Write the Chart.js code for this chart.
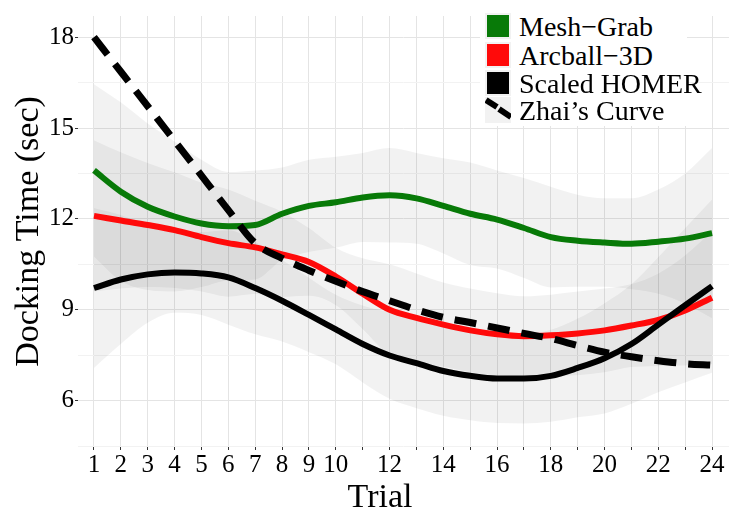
<!DOCTYPE html>
<html>
<head>
<meta charset="utf-8">
<script src="https://cdn.jsdelivr.net/npm/chart.js@4.4.1/dist/chart.umd.min.js"></script>
<style>
  html, body { margin: 0; padding: 0; background: #fff; }
  #wrap { position: relative; width: 729px; height: 515px; }
  #legend { position: absolute; left: 480px; top: 10px; width: 207px; height: 116px; background: #fff; }
  .row { position: absolute; left: 0; width: 240px; height: 28px; line-height: 28px;
         font-family: 'Liberation Serif', serif; font-size: 28px; color: #000; white-space: nowrap; }
  .key { position: absolute; left: 5px; top: 0; width: 26px; height: 26px; background: #f2f2f2; }
  .key span { position: absolute; left: 2px; top: 2px; width: 22px; height: 22px; }
  .key svg { position: absolute; left: 0; top: 0; }
  .label { position: absolute; left: 39px; top: 0; }
</style>
</head>
<body>
<div id="wrap">
  <canvas id="dockingChart" width="729" height="515"></canvas>
  <div id="legend"></div>
</div>
<script>
// trials and tick labels
const trials = [1, 2, 3, 4, 5, 6, 7, 8, 9, 10, 11, 12, 13, 14, 15, 16, 17, 18, 19, 20, 21, 22, 23, 24];
const xTickLabels = [1, 2, 3, 4, 5, 6, 7, 8, 9, 10, 12, 14, 16, 18, 20, 22, 24];
const yTickLabels = [6, 9, 12, 15, 18];
const yMinorTicks = [4.5, 7.5, 10.5, 13.5, 16.5];

const seriesNames = ['Mesh\u2212Grab', 'Arcball\u22123D', 'Scaled HOMER', 'Zhai\u2019s Curve'];
const seriesColors = ['#087a08', '#ff0a0a', '#000000', '#000000'];

// smoothed docking time (sec) per trial
const meshGrab = [13.6, 12.9, 12.4, 12.08, 11.85, 11.76, 11.8, 12.17, 12.43, 12.55, 12.71, 12.78,
                  12.68, 12.43, 12.17, 11.98, 11.7, 11.4, 11.28, 11.22, 11.18, 11.25, 11.35, 11.53];
const arcball3D = [12.1, 11.95, 11.8, 11.63, 11.4, 11.2, 11.06, 10.83, 10.58, 10.1, 9.53, 9.0,
                   8.73, 8.51, 8.32, 8.19, 8.13, 8.16, 8.22, 8.32, 8.48, 8.67, 8.98, 9.4];
const scaledHomer = [9.72, 10.0, 10.17, 10.23, 10.2, 10.07, 9.72, 9.3, 8.83, 8.35, 7.87, 7.49,
                     7.24, 6.98, 6.82, 6.73, 6.73, 6.82, 7.08, 7.4, 7.87, 8.51, 9.15, 9.78];
const zhaiCurve = [18.0, 16.86, 15.72, 14.58, 13.43, 12.29, 11.2, 10.7, 10.3, 9.94, 9.6, 9.3,
                   9.0, 8.75, 8.58, 8.4, 8.22, 8.05, 7.82, 7.6, 7.45, 7.32, 7.22, 7.17];

// confidence bands
const meshGrabUpper = [16.45, 15.85, 15.15, 14.56, 13.95, 13.55, 13.6, 13.7, 13.95, 14.05, 14.18, 14.34,
                       14.18, 14.0, 13.86, 13.6, 13.35, 13.06, 12.8, 12.68, 12.68, 12.97, 13.5, 14.34];
const meshGrabLower = [10.75, 9.95, 9.65, 9.6, 9.75, 9.97, 10.0, 10.64, 10.91, 11.05, 11.24, 11.22,
                       11.18, 10.86, 10.48, 10.36, 10.05, 9.74, 9.76, 9.76, 9.68, 9.53, 9.2, 8.72];
const arcball3DUpper = [14.6, 14.2, 13.85, 13.54, 13.2, 12.97, 12.6, 12.24, 11.7, 11.05, 10.7, 10.5,
                        10.2, 9.9, 9.7, 9.55, 9.45, 9.5, 9.6, 9.7, 9.85, 10.2, 10.8, 11.6];
const arcball3DLower = [9.6, 9.7, 9.75, 9.72, 9.6, 9.43, 9.52, 9.42, 9.46, 9.15, 8.36, 7.5,
                        7.26, 7.12, 6.94, 6.83, 6.81, 6.82, 6.84, 6.94, 7.11, 7.14, 7.16, 7.2];
const scaledHomerUpper = [12.36, 12.13, 11.77, 11.56, 11.57, 11.63, 11.25, 10.65, 10.06, 9.5, 9.14, 8.92,
                          8.73, 8.46, 8.29, 8.2, 8.21, 8.34, 8.71, 9.22, 9.84, 10.74, 11.7, 12.64];
const scaledHomerLower = [7.08, 7.87, 8.57, 8.9, 8.83, 8.51, 8.19, 7.95, 7.6, 7.2, 6.6, 6.06,
                          5.75, 5.5, 5.35, 5.26, 5.25, 5.3, 5.45, 5.58, 5.9, 6.28, 6.6, 6.92];

const serif = "'Liberation Serif', serif";
const bandColor = 'rgba(0, 0, 0, 0.05)';

function points(values)
{
    return trials.map((t, i) => ({x: t, y: values[i]}));
}

function bandPair(upper, lower)
{
    const common = {borderWidth: 0, pointRadius: 0, cubicInterpolationMode: 'monotone', order: 10};
    return [
        Object.assign({data: points(upper), fill: '+1', backgroundColor: bandColor}, common),
        Object.assign({data: points(lower), fill: false}, common)
    ];
}

function curve(values, color, order, dash)
{
    return {
        data: points(values),
        borderColor: color,
        borderWidth: dash ? 7 : 6,
        borderDash: dash || [],
        borderCapStyle: 'butt',
        pointRadius: 0,
        fill: false,
        cubicInterpolationMode: 'monotone',
        order: order
    };
}

const datasets = [
    ...bandPair(meshGrabUpper, meshGrabLower),
    ...bandPair(arcball3DUpper, arcball3DLower),
    ...bandPair(scaledHomerUpper, scaledHomerLower),
    curve(meshGrab, seriesColors[0], 3),
    curve(arcball3D, seriesColors[1], 2),
    curve(scaledHomer, seriesColors[2], 1),
    curve(zhaiCurve, seriesColors[3], 0, [22, 12])
];

// x title sits a little left of the panel centre, as in the original figure
const xTitlePlugin = {
    id: 'xTitle',
    afterDraw(chart)
    {
        const ctx = chart.ctx;
        ctx.save();
        ctx.font = '34px ' + serif;
        ctx.fillStyle = '#000';
        ctx.textAlign = 'center';
        ctx.textBaseline = 'alphabetic';
        ctx.fillText('Trial', 380, 507);
        ctx.restore();
    }
};

new Chart(document.getElementById('dockingChart').getContext('2d'), {
    type: 'line',
    data: {datasets: datasets},
    plugins: [xTitlePlugin],
    options: {
        responsive: false,
        animation: false,
        devicePixelRatio: 1,
        layout: {padding: 0},
        plugins: {legend: {display: false}, tooltip: {enabled: false}},
        scales: {
            x: {
                type: 'linear',
                min: 0.405,
                max: 24.63,
                border: {display: false},
                afterBuildTicks: scale => { scale.ticks = trials.map(v => ({value: v})); },
                afterFit: scale => { scale.height = 68; },
                grid: {color: '#e4e4e4', tickColor: '#333', tickLength: 3},
                ticks: {
                    autoSkip: false,
                    maxRotation: 0,
                    padding: 0,
                    color: '#000',
                    font: {family: serif, size: 25},
                    callback: v => xTickLabels.includes(v) ? String(v) : ''
                },
                title: {display: false}
            },
            y: {
                min: 4.47,
                max: 18.7,
                border: {display: false},
                afterBuildTicks: scale =>
                {
                    scale.ticks = yMinorTicks.concat(yTickLabels).sort((a, b) => a - b).map(v => ({value: v}));
                },
                afterFit: scale => { scale.width = 78; },
                grid: {
                    color: ctx => yTickLabels.includes(ctx.tick.value) ? '#e4e4e4' : '#f2f2f2',
                    tickColor: ctx => yTickLabels.includes(ctx.tick.value) ? '#333' : 'rgba(0,0,0,0)',
                    tickLength: 3
                },
                ticks: {
                    padding: 1,
                    color: '#000',
                    font: {family: serif, size: 25},
                    callback: v => yTickLabels.includes(v) ? String(v) : ''
                },
                title: {display: true, text: 'Docking Time (sec)', color: '#000', font: {family: serif, size: 34}, padding: {top: 9, bottom: 0}}
            }
        }
    }
});

// legend drawn inside the panel, top right
const legendTops = [13, 42, 70, 97];
const legend = document.getElementById('legend');
seriesNames.forEach((name, i) =>
{
    const row = document.createElement('div');
    row.className = 'row';
    row.style.top = (legendTops[i] - 10) + 'px';
    let key;
    if (i < 3)
    {
        key = '<div class="key"><span style="background:' + seriesColors[i] + '"></span></div>';
    }
    else
    {
        key = '<div class="key"><svg width="26" height="26">' +
              '<line x1="1" y1="3" x2="12" y2="10" stroke="#000" stroke-width="6"/>' +
              '<line x1="14" y1="12" x2="26" y2="20" stroke="#000" stroke-width="6"/></svg></div>';
    }
    row.innerHTML = key + '<span class="label">' + name + '</span>';
    legend.appendChild(row);
});
</script>
</body>
</html>
